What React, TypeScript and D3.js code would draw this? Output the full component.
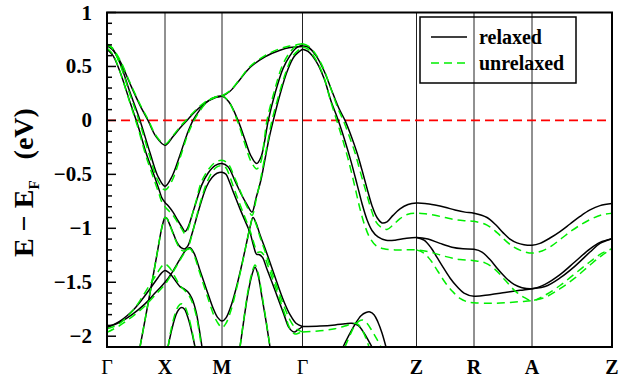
import React from "react";
import * as d3 from "d3";

type P = [number, number];

// High-symmetry points along the k-path (path-length units)
const kTicks = [0, 58, 115, 195.5, 309.5, 367, 425, 505];
const kLabels = ["Γ", "X", "M", "Γ", "Z", "R", "A", "Z"];
const yMajor = [1, 0.5, 0, -0.5, -1, -1.5, -2];
const yMajorLabels = ["1", "0.5", "0", "−0.5", "−1", "−1.5", "−2"];
const seriesNames = ["relaxed", "unrelaxed"];

// ---------- relaxed (black) ----------
const relaxedU: P[] = [[0,0.69],[5,0.66],[13,0.55],[23,0.34],[33,0.14],[41,0],[49,-0.15],[58,-0.23],[66,-0.15],[73,-0.07],[80,0],[88,0.08],[98,0.16],[108,0.21],[115,0.225],[123,0.27],[133,0.38],[143,0.49],[158,0.59],[173,0.65],[183,0.675],[195.5,0.685]];
const relaxedL: P[] = [[0,0.70],[5,0.67],[13,0.53],[23,0.26],[33,0],[43,-0.3],[51,-0.52],[58,-0.61],[65,-0.52],[73,-0.32],[80,-0.13],[86,0],[93,0.1],[101,0.18],[108,0.215],[115,0.225],[122,0.17],[131,0],[138,-0.18],[144,-0.33],[149.7,-0.40],[154,-0.34],[157.5,-0.2],[161.3,0],[168,0.25],[176,0.48],[183,0.6],[189,0.67],[195.5,0.70]];
const relaxedKPV: P[] = [[0,0.66],[6,0.6],[13,0.45],[23,0.17],[31,-0.05],[39,-0.3],[46,-0.48],[52,-0.64],[55,-0.72],[58,-0.76],[62,-0.8],[66,-0.85],[71,-0.93],[75,-0.99],[78,-1.03],[81,-0.99],[85,-0.88],[89,-0.76],[94.7,-0.6],[101,-0.49],[108,-0.42],[115,-0.40],[121,-0.43],[128,-0.56],[134,-0.68],[140,-0.78],[145,-0.85],[149,-0.72],[154,-0.55],[158,-0.36],[162,-0.17],[166.3,0],[173,0.24],[180,0.45],[187,0.59],[195.5,0.66]];
const relaxedXQ: P[] = [[33,-2.1],[39,-1.8],[45,-1.5],[50,-1.24],[54,-1.03],[56,-0.95],[58,-0.9],[60,-0.91],[62,-0.95],[66,-1.04],[70,-1.13],[74,-1.18],[78,-1.19],[81,-1.16],[85,-1.05],[89,-0.92],[94,-0.76],[99.7,-0.61],[105,-0.53],[110,-0.49],[115,-0.48],[119,-0.5],[122,-0.56],[127,-0.68],[133,-0.82],[138,-0.93],[143,-1.04],[146.5,-1.16],[149.5,-1.24],[152.5,-1.245],[155.5,-1.27],[160,-1.38],[165,-1.5],[171,-1.65],[177,-1.8],[182,-1.92],[187,-1.96],[191,-1.94],[195.5,-1.91]];
const relaxedAlpha: P[] = [[0,-1.91],[7,-1.89],[13,-1.86],[20,-1.81],[27,-1.75],[35,-1.66],[43,-1.56],[50,-1.47],[54,-1.42],[58,-1.39],[63,-1.42],[68,-1.48],[73,-1.54],[77,-1.56],[81,-1.59],[85,-1.65],[89,-1.77],[92,-1.92],[95,-2.1]];
const relaxedBetaW: P[] = [[0,-1.92],[13,-1.87],[25,-1.8],[38,-1.7],[48,-1.6],[58,-1.5],[65,-1.41],[74,-1.27],[79,-1.2],[83,-1.18],[87,-1.23],[93,-1.39],[100,-1.58],[107,-1.76],[111,-1.83],[115,-1.86],[119,-1.83],[124,-1.72],[129,-1.56],[134,-1.37],[139,-1.16],[143,-0.99],[146,-0.9],[149,-0.95],[153,-1.06],[159,-1.21],[165,-1.37],[171,-1.53],[177,-1.68],[183,-1.8],[189,-1.88],[195.5,-1.91]];
const relaxedSA: P[] = [[61,-2.1],[65,-1.93],[69,-1.8],[72,-1.75],[74.7,-1.735],[77.5,-1.75],[81,-1.83],[85,-1.97],[88,-2.1]];
const relaxedSL: P[] = [[133,-2.1],[137,-1.84],[141,-1.6],[145,-1.43],[148,-1.36],[151,-1.43],[155,-1.64],[159,-1.86],[163,-2.1]];
const relaxedG1T: P[] = [[195.5,0.69],[201,0.68],[209,0.60],[217,0.46],[225,0.27],[232,0.11],[238,0],[244,-0.14],[250,-0.3],[255,-0.46],[260,-0.63],[265,-0.79],[270,-0.9],[275,-0.95],[280,-0.94],[286,-0.88],[293,-0.82],[301,-0.78],[309.5,-0.766],[318,-0.77],[328,-0.785],[338,-0.805],[348,-0.83],[358,-0.85],[367,-0.86],[380,-0.9],[389,-0.97],[396,-1.04],[403,-1.1],[410,-1.135],[417,-1.152],[425,-1.157],[433,-1.14],[443,-1.09],[453,-1.03],[463,-0.96],[473,-0.89],[483,-0.83],[493,-0.79],[505,-0.77]];
const relaxedG2M: P[] = [[195.5,0.66],[201,0.64],[209,0.55],[217,0.39],[224,0.18],[231.3,0],[238,-0.19],[244,-0.38],[250,-0.59],[255,-0.77],[260,-0.92],[265,-1.02],[271,-1.08],[279,-1.11],[288,-1.11],[298,-1.095],[309.5,-1.086],[321,-1.1],[333,-1.14],[345,-1.175],[356,-1.19],[367,-1.195],[375,-1.22],[383,-1.29],[391,-1.38],[399,-1.46],[407,-1.52],[415,-1.55],[425,-1.56],[438,-1.52],[453,-1.43],[468,-1.31],[483,-1.19],[493,-1.13],[505,-1.096]];
const relaxedLb: P[] = [[309.5,-1.086],[317,-1.11],[324,-1.18],[330,-1.27],[336,-1.36],[343,-1.46],[350,-1.54],[357,-1.6],[367,-1.63],[383,-1.615],[398,-1.595],[413,-1.575],[425,-1.56],[438,-1.54],[453,-1.46],[468,-1.35],[483,-1.22],[493,-1.14],[505,-1.096]];
const relaxedFB: P[] = [[195.5,-1.91],[213,-1.905],[228,-1.895],[238,-1.885],[245,-1.88],[251,-1.9],[257,-1.97],[262,-2.05],[265,-2.1]];
const relaxedAB: P[] = [[236,-2.1],[242,-1.99],[248,-1.89],[254,-1.81],[259,-1.78],[263,-1.775],[267,-1.8],[271,-1.87],[275,-1.97],[279,-2.1]];

// ---------- unrelaxed (green dashed) ----------
const unrelaxedU: P[] = [[0,0.71],[5,0.675],[13,0.56],[23,0.35],[33,0.15],[41,0.01],[49,-0.14],[58,-0.22],[66,-0.14],[73,-0.06],[80,0.01],[88,0.09],[98,0.17],[108,0.215],[115,0.23],[123,0.275],[133,0.385],[143,0.5],[158,0.6],[173,0.665],[183,0.69],[195.5,0.71]];
const unrelaxedL: P[] = [[0,0.70],[5,0.67],[13,0.52],[23,0.24],[33,-0.03],[43,-0.34],[51,-0.56],[58,-0.645],[65,-0.56],[73,-0.35],[80,-0.15],[86,-0.02],[93,0.09],[101,0.18],[108,0.215],[115,0.23],[122,0.17],[131,-0.02],[138,-0.22],[144,-0.38],[149.7,-0.45],[154,-0.38],[157,-0.2],[160,0],[167,0.26],[175,0.5],[182,0.62],[189,0.69],[195.5,0.71]];
const unrelaxedKPV: P[] = [[0,0.67],[6,0.61],[13,0.45],[23,0.16],[31,-0.07],[39,-0.33],[46,-0.52],[52,-0.68],[55,-0.76],[58,-0.8],[62,-0.84],[66,-0.88],[71,-0.95],[75,-1.01],[78,-1.05],[81,-1.01],[85,-0.88],[89,-0.75],[94,-0.58],[101,-0.46],[108,-0.39],[115,-0.37],[121,-0.4],[128,-0.54],[134,-0.67],[140,-0.8],[145,-0.88],[149,-0.74],[153,-0.57],[157,-0.38],[161,-0.19],[165,0],[172,0.24],[179,0.45],[186,0.6],[195.5,0.68]];
const unrelaxedXQ: P[] = [[33,-2.1],[39,-1.8],[45,-1.5],[50,-1.24],[54,-1.03],[56,-0.95],[58,-0.9],[60,-0.91],[62,-0.95],[66,-1.05],[70,-1.14],[74,-1.2],[78,-1.21],[81,-1.18],[85,-1.06],[89,-0.91],[94,-0.74],[99.7,-0.58],[105,-0.48],[110,-0.43],[115,-0.42],[119,-0.44],[122,-0.5],[127,-0.63],[133,-0.78],[138,-0.9],[143,-1.02],[147,-1.14],[150.5,-1.22],[154,-1.22],[157,-1.25],[161,-1.35],[166,-1.48],[172,-1.64],[178,-1.8],[183,-1.93],[188,-1.98],[192,-1.97],[195.5,-1.96]];
const unrelaxedAlpha: P[] = [[0,-1.93],[7,-1.91],[13,-1.88],[20,-1.82],[27,-1.75],[35,-1.64],[43,-1.52],[50,-1.42],[54,-1.36],[58,-1.33],[63,-1.37],[68,-1.45],[73,-1.53],[77,-1.57],[81,-1.61],[85,-1.68],[89,-1.8],[92,-1.95],[94.5,-2.1]];
const unrelaxedBetaW: P[] = [[0,-1.965],[13,-1.9],[25,-1.82],[38,-1.72],[48,-1.62],[58,-1.52],[65,-1.42],[74,-1.28],[79,-1.21],[83,-1.19],[87,-1.25],[93,-1.42],[100,-1.62],[107,-1.81],[111,-1.88],[115,-1.92],[119,-1.88],[124,-1.76],[129,-1.58],[134,-1.38],[139,-1.16],[143,-0.99],[146,-0.9],[149,-0.96],[153,-1.08],[159,-1.24],[165,-1.41],[171,-1.57],[177,-1.72],[183,-1.85],[189,-1.93],[195.5,-1.96]];
const unrelaxedSA: P[] = [[61,-2.1],[64.5,-1.92],[68.5,-1.78],[71.5,-1.72],[74.5,-1.70],[77.5,-1.72],[81,-1.8],[85,-1.95],[88,-2.1]];
const unrelaxedSL: P[] = [[133,-2.1],[137,-1.83],[141,-1.58],[145,-1.41],[148,-1.34],[151,-1.41],[155,-1.62],[159,-1.85],[163,-2.1]];
const unrelaxedG1T: P[] = [[195.5,0.71],[201,0.69],[209,0.61],[217,0.47],[224,0.29],[231,0.11],[236.3,0],[242,-0.14],[248,-0.3],[254,-0.5],[259,-0.66],[264,-0.82],[269,-0.94],[274,-0.99],[280,-1.01],[286,-0.97],[293,-0.91],[301,-0.87],[309.5,-0.86],[318,-0.865],[328,-0.88],[338,-0.9],[348,-0.92],[358,-0.93],[367,-0.935],[380,-0.97],[390,-1.04],[398,-1.11],[406,-1.17],[415,-1.21],[425,-1.23],[435,-1.21],[445,-1.16],[455,-1.09],[465,-1.02],[475,-0.96],[485,-0.91],[495,-0.875],[505,-0.86]];
const unrelaxedG2M: P[] = [[195.5,0.68],[201,0.66],[209,0.56],[217,0.4],[223,0.2],[229.7,0],[236,-0.19],[242,-0.39],[248,-0.62],[253,-0.82],[258,-0.98],[263,-1.09],[269,-1.16],[277,-1.19],[288,-1.2],[298,-1.2],[309.5,-1.2],[323,-1.22],[338,-1.26],[353,-1.29],[367,-1.30],[378,-1.32],[388,-1.38],[398,-1.48],[408,-1.58],[417,-1.64],[425,-1.67],[438,-1.62],[453,-1.53],[468,-1.42],[483,-1.31],[495,-1.23],[505,-1.19]];
const unrelaxedLg: P[] = [[309.5,-1.2],[317,-1.23],[324,-1.3],[331,-1.4],[338,-1.5],[345,-1.58],[353,-1.65],[360,-1.68],[367,-1.69],[383,-1.695],[398,-1.69],[413,-1.68],[425,-1.67],[438,-1.64],[453,-1.56],[468,-1.46],[483,-1.34],[495,-1.25],[505,-1.19]];
const unrelaxedFG: P[] = [[195.5,-1.96],[213,-1.95],[228,-1.93],[240,-1.9],[247,-1.88],[251,-1.89],[255,-1.94],[259,-2.02],[262,-2.1]];
const unrelaxedAG: P[] = [[238,-2.1],[243,-1.99],[248,-1.9],[252,-1.86],[256,-1.85],[260,-1.88],[265,-1.95],[270,-2.03],[274,-2.1]];

const relaxedBands = [relaxedU, relaxedL, relaxedKPV, relaxedXQ, relaxedAlpha, relaxedBetaW, relaxedSA, relaxedSL, relaxedG1T, relaxedG2M, relaxedLb, relaxedFB, relaxedAB];
const unrelaxedBands = [unrelaxedU, unrelaxedL, unrelaxedKPV, unrelaxedXQ, unrelaxedAlpha, unrelaxedBetaW, unrelaxedSA, unrelaxedSL, unrelaxedG1T, unrelaxedG2M, unrelaxedLg, unrelaxedFG, unrelaxedAG];

const W = 629, H = 381;
const L = 107, R = 612, T = 12.5, B = 347;
const FONT = "'Liberation Serif', 'Times New Roman', serif";

export default function App() {
  const x = d3.scaleLinear().domain([kTicks[0], kTicks[kTicks.length - 1]]).range([L, R]);
  const y = d3.scaleLinear().domain([-2.1, 1]).range([B, T]);
  const line = d3.line<P>().x(d => x(d[0])).y(d => y(d[1])).curve(d3.curveCatmullRom.alpha(0.5));
  const minor = d3.range(-21, 11).map(i => i / 10);

  return (
    <div style={{ position: "fixed", left: 0, top: 0 }}>
      <svg width={W} height={H} style={{ display: "block", background: "#fff" }} fontFamily={FONT}>
        <defs>
          <clipPath id="plotclip">
            <rect x={L} y={T} width={R - L} height={B - T} />
          </clipPath>
        </defs>
        {/* high-symmetry vertical lines */}
        {kTicks.slice(1, -1).map((k, i) => (
          <line key={"v" + i} x1={x(k)} x2={x(k)} y1={T} y2={B} stroke="#222" strokeWidth={1} />
        ))}
        {/* Fermi level */}
        <line x1={L} x2={R} y1={y(0)} y2={y(0)} stroke="#ff0000" strokeWidth={1.6} strokeDasharray="9,5" />
        <g clipPath="url(#plotclip)" fill="none">
          {relaxedBands.map((b, i) => (
            <path key={"r" + i} d={line(b) || ""} stroke="#000" strokeWidth={1.5} />
          ))}
          {unrelaxedBands.map((b, i) => (
            <path key={"u" + i} d={line(b) || ""} stroke="#00ee00" strokeWidth={1.5} strokeDasharray="8,5" />
          ))}
        </g>
        {/* frame */}
        <rect x={L} y={T} width={R - L} height={B - T} fill="none" stroke="#000" strokeWidth={2} />
        {/* y ticks */}
        {minor.map((v, i) => {
          const major = Math.abs(Math.round(v * 10)) % 5 === 0;
          return <line key={"t" + i} x1={L} x2={L + (major ? 9 : 5)} y1={y(v)} y2={y(v)} stroke="#000" strokeWidth={1.5} />;
        })}
        {yMajor.map((v, i) => (
          <text key={"yl" + i} x={92} y={y(v)} textAnchor="end" dominantBaseline="central" fontSize={21} fontWeight="bold">
            {yMajorLabels[i]}
          </text>
        ))}
        {kTicks.map((k, i) => (
          <text key={"xl" + i} x={x(k)} y={374} textAnchor="middle" fontSize={20} fontWeight={kLabels[i] === "Γ" ? "normal" : "bold"}>
            {kLabels[i]}
          </text>
        ))}
        {/* y label */}
        <text transform="translate(32.5,182.5) rotate(-90)" textAnchor="middle" fontSize={28} fontWeight="bold">
          E − E<tspan fontSize={15} dy={6}>F</tspan><tspan dy={-6}>{"\u00a0\u00a0\u00a0(eV)"}</tspan>
        </text>
        {/* legend */}
        <rect x={420} y={17} width={156} height={66} fill="none" stroke="#000" strokeWidth={1.5} />
        <line x1={431} x2={467} y1={37} y2={37} stroke="#000" strokeWidth={1.5} />
        <line x1={431} x2={467} y1={63} y2={63} stroke="#00ee00" strokeWidth={1.5} strokeDasharray="8,5" />
        <text x={479} y={43.5} fontSize={20} fontWeight="bold">{seriesNames[0]}</text>
        <text x={479} y={70} fontSize={20} fontWeight="bold">{seriesNames[1]}</text>
      </svg>
    </div>
  );
}
